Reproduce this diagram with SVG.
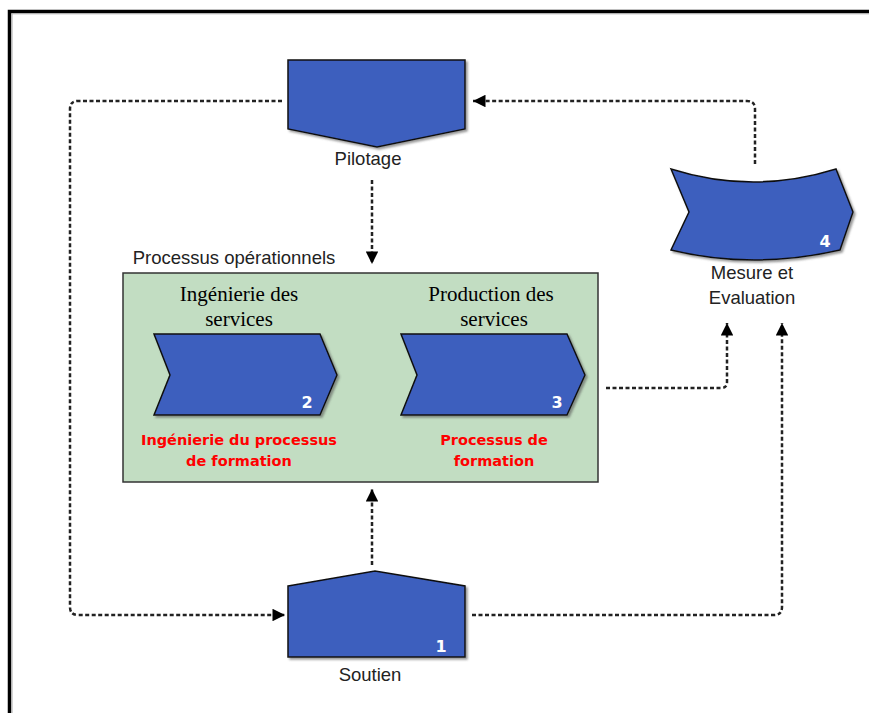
<svg xmlns="http://www.w3.org/2000/svg" width="869" height="713" viewBox="0 0 869 713">
<defs>
<style>
.shape{fill:#3D5EBE;stroke:#111;stroke-width:1.5;stroke-linejoin:miter}
.conn{fill:none;stroke:#222;stroke-width:2.5;stroke-dasharray:4 2.5}
.lbl{font-family:"Liberation Sans",Arial,sans-serif;font-size:18.5px;fill:#222;text-anchor:middle}
.num{font-family:"DejaVu Sans",sans-serif;font-weight:bold;font-size:16px;fill:#fff;text-anchor:middle}
.ser{font-family:"Liberation Serif","Times New Roman",serif;font-size:21px;fill:#000;text-anchor:middle}
.red{font-family:"DejaVu Sans",sans-serif;font-weight:bold;font-size:14.5px;fill:#f00;text-anchor:middle}
</style>
<marker id="ah" viewBox="0 0 10 10" refX="10" refY="5" markerWidth="5.5" markerHeight="5" orient="auto" markerUnits="strokeWidth">
<path d="M0,0 L10,5 L0,10 z" fill="#000"/>
</marker>
<filter id="sh" x="-5%" y="-5%" width="115%" height="115%">
<feDropShadow dx="2" dy="2" stdDeviation="0.8" flood-color="#555" flood-opacity="0.6"/>
</filter>
</defs>
<rect width="869" height="713" fill="#fff"/>
<g id="frame">
<path d="M9.5,713 V11.5 H869" fill="none" stroke="#000" stroke-width="3.5"/>
<path d="M12,713 V13.8 H869" fill="none" stroke="#aaa" stroke-width="1"/>
</g>
<g id="connectors">
<path class="conn" d="M282,101 H78 Q70,101 70,109 V607 Q70,615 78,615 H285" marker-end="url(#ah)"/>
<path class="conn" d="M755,164 V109 Q755,101 747,101 H473" marker-end="url(#ah)"/>
<path class="conn" d="M372,180 V264" marker-end="url(#ah)"/>
<path class="conn" d="M343,375 H395" marker-end="url(#ah)"/>
<path class="conn" d="M606,388 H721 Q727,388 727,382 V323" marker-end="url(#ah)"/>
<path class="conn" d="M472,615 H774 Q782,615 782,607 V323" marker-end="url(#ah)"/>
<path class="conn" d="M372,565 V489" marker-end="url(#ah)"/>
</g>
<g id="pilotage">
<path class="shape" filter="url(#sh)" d="M288,60 H465 V129 L377,147 L288,129 Z"/>
<text class="lbl" x="368" y="165">Pilotage</text>
</g>
<g id="processus-operationnels">
<text class="lbl" x="234" y="264">Processus opérationnels</text>
<rect x="123" y="273" width="475" height="209" fill="#C2DDC2" stroke="#333" stroke-width="1.5"/>
</g>
<g id="ingenierie">
<text class="ser" x="239" y="301">Ingénierie des</text>
<text class="ser" x="239" y="326">services</text>
<path class="shape" filter="url(#sh)" d="M154,334 H320 L337,375 L320,415 H154 L170,375 Z"/>
<text class="num" x="307" y="408">2</text>
<text class="red" x="239" y="445">Ingénierie du processus</text>
<text class="red" x="239" y="466">de formation</text>
</g>
<g id="production">
<text class="ser" x="491" y="301">Production des</text>
<text class="ser" x="494" y="326">services</text>
<path class="shape" filter="url(#sh)" d="M401,334 H567 L585,375 L567,415 H401 L417,375 Z"/>
<text class="num" x="557" y="408">3</text>
<text class="red" x="494" y="445">Processus de</text>
<text class="red" x="494" y="466">formation</text>
</g>
<g id="mesure">
<path class="shape" filter="url(#sh)" d="M671,169 Q753,195 836,169 L853,212 L840,250 Q753,270 671,250 L689,212 Z"/>
<text class="num" x="825" y="247">4</text>
<text class="lbl" x="752" y="279">Mesure et</text>
<text class="lbl" x="752" y="304">Evaluation</text>
</g>
<g id="soutien">
<path class="shape" filter="url(#sh)" d="M288,586 L375,571 L465,586 V657 H288 Z"/>
<text class="num" x="441" y="652">1</text>
<text class="lbl" x="370" y="681">Soutien</text>
</g>
</svg>
